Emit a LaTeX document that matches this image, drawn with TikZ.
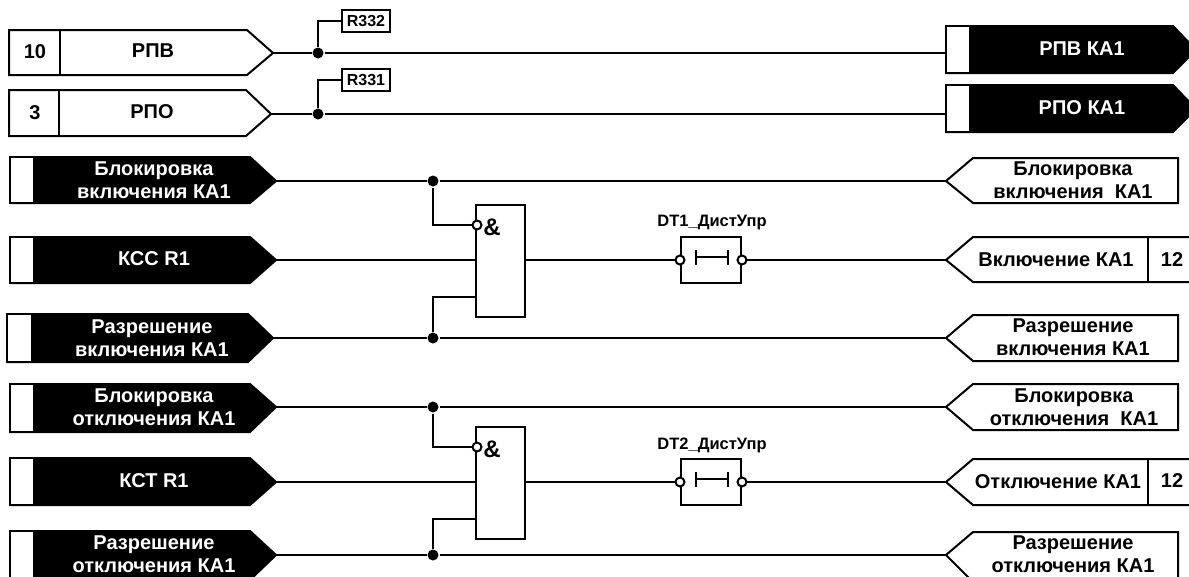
\documentclass[tikz,border=0pt]{standalone}
\usepackage{fontspec}
\setmainfont{Liberation Sans}
\usetikzlibrary{positioning}
\tikzset{lab/.style={font=\bfseries\fontsize{20}{23.5}\selectfont,align=center,inner sep=0pt}}
\tikzset{small/.style={lab,font=\bfseries\fontsize{16.5}{16.5}\selectfont}}
\tikzset{amp/.style={lab,font=\bfseries\fontsize{24}{24}\selectfont}}
\tikzset{whitelab/.style={lab,text=white}}
\tikzset{tagw/.style={draw,fill=white}}
\tikzset{tagb/.style={draw,fill=black}}
\tikzset{dot/.style={circle,fill=black,inner sep=0pt,minimum size=11pt}}
\tikzset{inv/.style={circle,draw,fill=white,inner sep=0pt,minimum size=9pt}}
\tikzset{gate/.style={draw,fill=white,inner sep=0pt,minimum width=49pt,minimum height=112pt}}
\tikzset{contact/.style={draw,inner sep=0pt,minimum width=60pt,minimum height=46pt}}
\tikzset{refbox/.style={draw,fill=white,inner sep=0pt,minimum width=48pt,minimum height=22pt,font=\bfseries\fontsize{16}{16}\selectfont}}
\begin{document}
\begin{tikzpicture}[x=1pt,y=-1pt,line width=2pt,line join=miter]
      \clip[use as bounding box] (0,0) rectangle (1189,576);
      \draw[tagw] (9,30) -- (247,30) -- (273,53) coordinate (l1) -- (247,75) -- (9,75) -- cycle;
      \draw (60,30) -- (60,75);
      \node[lab] (n1) at (35,52) {10};
      \node[lab] (t1) at (153,51) {РПВ};
      \draw[tagw] (9,90) -- (246,90) -- (271,114) coordinate (l2) -- (246,136) -- (9,136) -- cycle;
      \draw (59,90) -- (59,136);
      \node[lab] (n2) at (35,113) {3};
      \node[lab] (t2) at (152,112) {РПО};
      \draw[tagb] (10,157) -- (250,157) -- (276,181) coordinate (l3) -- (250,203) -- (10,203) -- cycle;
      \draw[tagw] (10,157) rectangle (34,203);
      \node[whitelab] (t3) at (154,180) {Блокировка\\включения КА1};
      \draw[tagb] (10,237) -- (250,237) -- (276,260) coordinate (l4) -- (250,283) -- (10,283) -- cycle;
      \draw[tagw] (10,237) rectangle (34,283);
      \node[whitelab] (t4) at (154,259) {КСС R1};
      \draw[tagb] (7,314) -- (248,314) -- (273,338) coordinate (l5) -- (248,362) -- (7,362) -- cycle;
      \draw[tagw] (7,314) rectangle (32,362);
      \node[whitelab] (t5) at (152,338) {Разрешение\\включения КА1};
      \draw[tagb] (10,384) -- (250,384) -- (276,407) coordinate (l6) -- (250,432) -- (10,432) -- cycle;
      \draw[tagw] (10,384) rectangle (34,432);
      \node[whitelab] (t6) at (154,407) {Блокировка\\отключения КА1};
      \draw[tagb] (10,458) -- (250,458) -- (276,482) coordinate (l7) -- (250,505) -- (10,505) -- cycle;
      \draw[tagw] (10,458) rectangle (34,505);
      \node[whitelab] (t7) at (154,481) {КСТ R1};
      \draw[tagb] (10,531) -- (250,531) -- (276,555) coordinate (l8) -- (250,580) -- (10,580) -- cycle;
      \draw[tagw] (10,531) rectangle (34,580);
      \node[whitelab] (t8) at (154,554) {Разрешение\\отключения КА1};
      \draw[tagb] (946,26) -- (1173,26) -- (1196,50) -- (1173,73) -- (946,73) -- cycle;
      \draw[tagw] (946,26) rectangle (970,73);
      \coordinate (r1) at (946,53);
      \node[whitelab] (s1) at (1082,49) {РПВ КА1};
      \draw[tagb] (946,85) -- (1173,85) -- (1196,109) -- (1173,132) -- (946,132) -- cycle;
      \draw[tagw] (946,85) rectangle (970,132);
      \coordinate (r2) at (946,114);
      \node[whitelab] (s2) at (1082,108) {РПО КА1};
      \draw[tagw] (946,181) coordinate (r3) -- (973,158) -- (1178,158) -- (1178,203) -- (973,203) -- cycle;
      \node[lab] (s3) at (1073,180) {Блокировка\\включения\ \ КА1};
      \draw[tagw] (946,260) coordinate (r4) -- (973,237) -- (1195,237) -- (1195,282) -- (973,282) -- cycle;
      \draw (1148,237) -- (1148,282);
      \node[lab] (s4) at (1056,260) {Включение КА1};
      \node[lab] (m4) at (1172,260) {12};
      \draw[tagw] (946,338) coordinate (r5) -- (973,315) -- (1178,315) -- (1178,361) -- (973,361) -- cycle;
      \node[lab] (s5) at (1073,337) {Разрешение\\включения КА1};
      \draw[tagw] (946,407) coordinate (r6) -- (973,384) -- (1178,384) -- (1178,430) -- (973,430) -- cycle;
      \node[lab] (s6) at (1074,407) {Блокировка\\отключения\ \ КА1};
      \draw[tagw] (946,482) coordinate (r7) -- (973,459) -- (1195,459) -- (1195,505) -- (973,505) -- cycle;
      \draw (1148,459) -- (1148,505);
      \node[lab] (s7) at (1058,482) {Отключение КА1};
      \node[lab] (m7) at (1172,481) {12};
      \draw[tagw] (946,555) coordinate (r8) -- (973,532) -- (1178,532) -- (1178,582) -- (973,582) -- cycle;
      \node[lab] (s8) at (1073,554) {Разрешение\\отключения КА1};
      \node[dot] (j1) at (318,53) {};
      \node[dot] (j2) at (318,114) {};
      \node[dot] (j3) at (433,181) {};
      \node[dot] (j4) at (433,338) {};
      \node[dot] (j5) at (433,407) {};
      \node[dot] (j6) at (433,555) {};
      \node[refbox] (a1) at (366,21) {R332};
      \node[refbox] (a2) at (366,80) {R331};
      \draw (l1) -- (j1) -- (r1);
      \draw (j1) |- (a1);
      \draw (l2) -- (j2) -- (r2);
      \draw (j2) |- (a2);
      \draw (l3) -- (j3) -- (r3);
      \draw (l5) -- (j4) -- (r5);
      \draw (l6) -- (j5) -- (r6);
      \draw (l8) -- (j6) -- (r8);
      \node[gate] (g1) at (500.5,261) {};
      \node[gate] (g2) at (500.5,483) {};
      \node[inv] (i1) at (477,225) {};
      \node[inv] (i2) at (477,447) {};
      \node[amp] (e1) at (492,227) {\&};
      \node[amp] (e2) at (492,449) {\&};
      \coordinate (c1) at (476,297);
      \coordinate (c2) at (476,519);
      \draw (j3) |- (i1);
      \draw (j4) |- (c1);
      \draw (j5) |- (i2);
      \draw (j6) |- (c2);
      \draw (l4) -- (l4 -| g1.west);
      \draw (l7) -- (l7 -| g2.west);
      \node[contact] (d1) at (711,260) {};
      \node[contact] (d2) at (711,482) {};
      \node[small] (u1) at (712,223) {DT1\_ДистУпр};
      \node[small] (u2) at (712,445) {DT2\_ДистУпр};
      \draw (g1.east |- d1) -- (d1.west);
      \draw (g2.east |- d2) -- (d2.west);
      \draw (d1.east) -- (r4);
      \draw (d2.east) -- (r7);
      \node[inv] (o1) at (d1.west) {};
      \node[inv] (o2) at (d1.east) {};
      \node[inv] (o3) at (d2.west) {};
      \node[inv] (o4) at (d2.east) {};
      \draw (696,250) -- (696,265) (696,257) -- (728,257) (728,250) -- (728,265);
      \draw (696,472) -- (696,487) (696,479) -- (728,479) (728,472) -- (728,487);
    \end{tikzpicture}
\end{document}
